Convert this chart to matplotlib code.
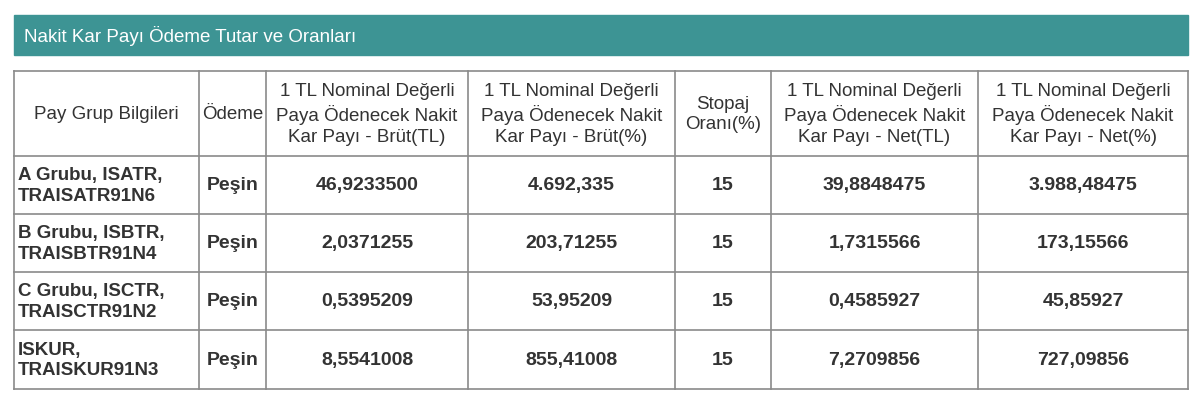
import matplotlib
matplotlib.use("Agg")
import matplotlib.pyplot as plt
from matplotlib.patches import Rectangle

title = "Nakit Kar Payı Ödeme Tutar ve Oranları"
headers = ["Pay Grup Bilgileri", "Ödeme",
           "1 TL Nominal Değerli\nPaya Ödenecek Nakit\nKar Payı - Brüt(TL)",
           "1 TL Nominal Değerli\nPaya Ödenecek Nakit\nKar Payı - Brüt(%)",
           "Stopaj\nOranı(%)",
           "1 TL Nominal Değerli\nPaya Ödenecek Nakit\nKar Payı - Net(TL)",
           "1 TL Nominal Değerli\nPaya Ödenecek Nakit\nKar Payı - Net(%)"]
groups = ["A Grubu, ISATR,\nTRAISATR91N6", "B Grubu, ISBTR,\nTRAISBTR91N4",
          "C Grubu, ISCTR,\nTRAISCTR91N2", "ISKUR,\nTRAISKUR91N3"]
odeme = ["Peşin", "Peşin", "Peşin", "Peşin"]
brut_tl = ["46,9233500", "2,0371255", "0,5395209", "8,5541008"]
brut_pct = ["4.692,335", "203,71255", "53,95209", "855,41008"]
stopaj = ["15", "15", "15", "15"]
net_tl = ["39,8848475", "1,7315566", "0,4585927", "7,2709856"]
net_pct = ["3.988,48475", "173,15566", "45,85927", "727,09856"]

plt.rcParams['font.family'] = ['Liberation Sans', 'DejaVu Sans']
fig = plt.figure(figsize=(12, 4.06), dpi=100)
ax = fig.add_axes([0, 0, 1, 1])
ax.set_xlim(0, 1200); ax.set_ylim(406, 0); ax.axis('off')

ax.add_patch(Rectangle((14, 16), 1174, 40, color='#3d9494'))
ax.text(24, 36, title, color='white', fontsize=13.5, va='center', ha='left')

xs = [14, 199, 266, 468, 675, 771, 978, 1188]
ys = [72, 157, 215, 273, 331, 390]
lc = '#8a8a8a'
for x in xs:
    ax.plot([x, x], [ys[0], ys[-1]], color=lc, lw=1.2)
for y in ys:
    ax.plot([xs[0], xs[-1]], [y, y], color=lc, lw=1.2)

tc = '#333333'
for i, h in enumerate(headers):
    ax.text((xs[i] + xs[i+1]) / 2, (ys[0] + ys[1]) / 2, h, ha='center', va='center',
            fontsize=13.5, color=tc, linespacing=1.3)

cols = [odeme, brut_tl, brut_pct, stopaj, net_tl, net_pct]
for r in range(4):
    yc = (ys[r+1] + ys[r+2]) / 2
    ax.text(xs[0] + 4, yc, groups[r], ha='left', va='center', fontsize=13.5,
            fontweight='bold', color=tc, linespacing=1.25)
    for c, col in enumerate(cols):
        ax.text((xs[c+1] + xs[c+2]) / 2, yc, col[r], ha='center', va='center',
                fontsize=14, fontweight='bold', color=tc)

fig.savefig("out.png", dpi=100, facecolor='white')
